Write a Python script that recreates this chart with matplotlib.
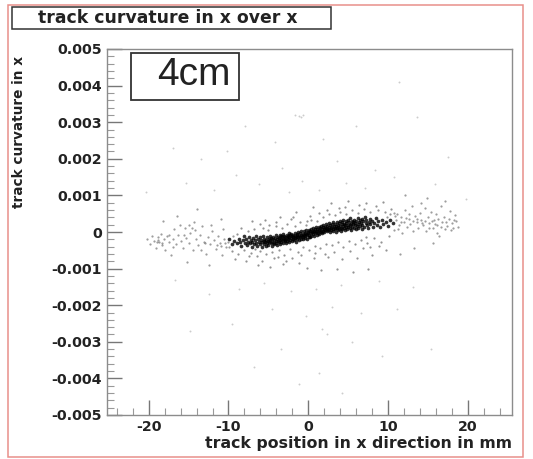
import matplotlib
matplotlib.use("Agg")
import matplotlib.pyplot as plt
from matplotlib.patches import Rectangle
from matplotlib.ticker import MultipleLocator

plt.rcParams['font.family'] = ['DejaVu Sans']
plt.rcParams['axes.unicode_minus'] = False

# (x in mm, curvature in units of 0.001)
core_pts = [
(-8.9,-.31),(-8.7,-.18),(-8.5,-.27),(-8.4,-.38),(-8.2,-.22),(-8.1,-.12),(-7.9,-.3),(-7.8,-.2),(-7.7,-.36),(-7.5,-.26),
(-7.4,-.14),(-7.3,-.31),(-7.2,-.21),(-7.1,-.41),(-7.0,-.27),(-6.9,-.17),(-6.8,-.33),(-6.7,-.23),(-6.6,-.11),(-6.5,-.29),
(-6.4,-.37),(-6.3,-.2),(-6.2,-.26),(-6.1,-.15),(-6.0,-.32),(-5.9,-.22),(-5.85,-.42),(-5.8,-.28),(-5.7,-.12),(-5.6,-.24),
(-5.55,-.34),(-5.5,-.18),(-5.4,-.27),(-5.35,-.39),(-5.3,-.21),(-5.2,-.3),(-5.15,-.14),(-5.1,-.25),(-5.0,-.35),(-4.95,-.19),
(-4.9,-.28),(-4.85,-.1),(-4.8,-.23),(-4.7,-.31),(-4.65,-.17),(-4.6,-.26),(-4.55,-.37),(-4.5,-.2),(-4.4,-.13),(-4.35,-.29),
(-4.3,-.22),(-4.25,-.33),(-4.2,-.16),(-4.1,-.25),(-4.05,-.09),(-4.0,-.3),(-3.95,-.2),(-3.9,-.36),(-3.85,-.14),(-3.8,-.24),
(-3.7,-.28),(-3.65,-.17),(-3.6,-.08),(-3.55,-.22),(-3.5,-.32),(-3.45,-.12),(-3.4,-.19),(-3.35,-.27),(-3.3,-.15),(-3.2,-.23),
(-3.15,-.05),(-3.1,-.3),(-3.05,-.18),(-3.0,-.1),(-2.95,-.25),(-2.9,-.14),(-2.85,-.21),(-2.8,-.29),(-2.7,-.07),(-2.65,-.17),
(-2.6,-.24),(-2.55,-.11),(-2.5,-.2),(-2.45,-.03),(-2.4,-.27),(-2.35,-.14),(-2.3,-.09),(-2.25,-.22),(-2.2,-.17),(-2.1,-.05),
(-2.05,-.25),(-2.0,-.12),(-1.95,-.19),(-1.9,-.07),(-1.85,-.15),(-1.8,-.23),(-1.7,-.1),(-1.65,-.02),(-1.6,-.17),(-1.55,-.27),
(-1.5,-.13),(-1.45,-.06),(-1.4,-.2),(-1.35,-.09),(-1.3,.0),(-1.25,-.15),(-1.2,-.11),(-1.1,-.22),(-1.05,-.04),(-1.0,-.13),
(-.95,-.18),(-.9,-.07),(-.85,.02),(-.8,-.11),(-.7,-.2),(-.65,-.05),(-.6,-.14),(-.55,.03),(-.5,-.09),(-.45,-.16),
(-.4,-.02),(-.35,-.12),(-.3,.05),(-.25,-.06),(-.2,-.18),(-.1,-.09),(-.05,.01),(.0,-.04),(.05,-.13),(.1,.06),
(.15,-.07),(.2,.02),(.25,-.15),(.3,-.03),(.35,.08),(.4,-.1),(.5,.0),(.55,.04),(.6,-.06),(.65,.11),
(.7,-.12),(.75,.02),(.8,.07),(.9,-.04),(.95,.13),(1.0,.01),(1.05,-.08),(1.1,.09),(1.15,.04),(1.2,-.02),
(1.3,.14),(1.35,.06),(1.4,-.05),(1.45,.02),(1.5,.11),(1.55,.17),(1.6,.0),(1.7,.08),(1.75,-.04),(1.8,.13),
(1.85,.04),(1.9,.19),(1.95,.09),(2.0,-.01),(2.1,.15),(2.15,.06),(2.2,.11),(2.25,.22),(2.3,.02),(2.35,.09),
(2.4,.17),(2.5,.05),(2.55,.13),(2.6,.24),(2.65,.08),(2.7,.0),(2.75,.18),(2.8,.11),(2.9,.06),(2.95,.21),
(3.0,.14),(3.05,.03),(3.1,.09),(3.15,.26),(3.2,.17),(3.3,.07),(3.35,.12),(3.4,.22),(3.45,.01),(3.5,.16),
(3.55,.28),(3.6,.1),(3.7,.19),(3.75,.05),(3.8,.14),(3.85,.24),(3.9,.09),(3.95,.31),(4.0,.17),(4.1,.12),
(4.15,.03),(4.2,.21),(4.25,.27),(4.3,.08),(4.35,.16),(4.4,.34),(4.5,.11),(4.55,.22),(4.6,.05),(4.65,.18),
(4.7,.29),(4.75,.13),(4.8,.24),(4.9,.08),(4.95,.2),(5.0,.33),(5.05,.15),(5.1,.26),(5.2,.1),(5.25,.19),
(5.3,.37),(5.35,.23),(5.4,.06),(5.5,.3),(5.55,.14),(5.6,.21),(5.65,.27),(5.7,.11),(5.8,.34),(5.85,.18),
(5.9,.24),(6.0,.07),(6.05,.29),(6.1,.16),(6.2,.39),(6.25,.22),(6.3,.12),(6.4,.27),(6.45,.33),(6.5,.17),
(6.6,.25),(6.7,.09),(6.75,.36),(6.8,.2),(6.9,.29),(7.0,.14),(7.1,.41),(7.2,.24),(7.3,.32),(7.4,.18),
(7.5,.1),(7.6,.27),(7.7,.36),(7.8,.21),(8.0,.3),(8.1,.15),(8.3,.25),(8.5,.38),(8.6,.2),(8.8,.29),
(9.0,.13),(9.2,.33),(9.4,.23),(9.7,.28),(10.0,.17),(10.3,.34),(10.6,.24),(-9.3,-.24),(-9.6,-.34),(-9.9,-.2),
]
halo_pts = [
(-9.5,-.52),(-8.8,-.6),(-8.1,-.49),(-7.6,.02),(-7.2,-.58),(-6.8,.08),(-6.4,-.65),(-6.1,-.52),(-5.7,.12),(-5.3,-.6),
(-5.0,.06),(-4.6,-.55),(-4.3,-.72),(-4.0,.16),(-3.7,-.5),(-3.3,.1),(-3.0,-.62),(-2.6,.22),(-2.3,-.47),(-2.0,-.7),
(-1.7,.17),(-1.3,-.54),(-1.0,.28),(-.6,-.42),(-.3,.2),(.1,-.5),(.4,.34),(.8,-.38),(1.1,.3),(1.5,-.44),
(1.9,.41),(2.2,-.33),(2.6,.5),(3.0,-.36),(3.3,.46),(3.7,-.28),(4.0,.56),(4.4,-.41),(4.8,.5),(5.1,-.25),
(5.5,.6),(5.9,-.34),(6.2,.53),(6.6,-.22),(7.0,.62),(7.4,-.3),(7.8,.55),(8.2,-.17),(8.7,.6),(9.1,-.26),
(9.6,.56),(10.1,-.1),(10.4,.62),(-8.4,.11),(-7.0,.3),(-5.4,.33),(-3.5,.42),(-1.5,.55),(.6,.68),(2.8,.78),
(5.0,.85),(7.3,.8),(9.4,.82),(-6.3,-.9),(-4.8,-.95),(-3.1,-.88),(-1.2,-.85),(.7,-.72),(2.5,-.68),(4.3,-.75),
(6.1,-.7),(8.0,-.62),(9.8,-.5),(-7.8,-.8),(-9.2,-.75),(-.2,-.98),(1.6,-1.05),(3.6,-1.0),(5.6,-1.1),(7.5,-1.0),
(-4.1,.27),(3.2,-.56),(-8.9,-.06),(6.4,.74),(-2.2,.36),(9.9,.41),(-6.7,-.47),(1.3,.52),(7.7,-.41),(-.9,-.63),
(4.6,.68),(-5.8,-.78),(2.1,-.59),(8.5,.7),(-3.8,-.68),(.2,.44),(5.3,-.52),(-7.4,-.66),(10.2,.48),(-1.9,.42),
(3.9,.66),(-4.9,.19),(6.9,-.45),(-.1,.3),(8.9,-.38),(-2.8,-.79),(2.4,.61),(-6.0,.21),(.9,-.57),(7.2,-.15),
]
left_wing_pts = [
(-20.2,-.2),(-19.8,-.33),(-19.6,-.1),(-19.3,-.24),(-19.1,-.44),(-18.9,-.15),(-18.7,-.28),(-18.5,-.05),(-18.3,-.36),(-18.1,-.2),
(-17.9,-.5),(-17.7,-.12),(-17.5,-.27),(-17.2,-.62),(-17.0,-.18),(-16.8,.07),(-16.6,-.34),(-16.3,-.09),(-16.1,.2),(-15.9,-.24),
(-15.7,-.44),(-15.5,.12),(-15.3,-.16),(-15.0,-.3),(-14.8,-.02),(-14.5,-.5),(-14.3,.26),(-14.1,-.2),(-13.8,-.36),(-13.6,-.07),
(-13.3,.16),(-13.1,-.26),(-12.8,-.6),(-12.6,-.13),(-12.3,-.34),(-12.1,.04),(-11.8,-.22),(-11.6,-.47),(-11.3,-.1),(-11.1,-.3),
(-10.8,-.64),(-10.6,-.18),(-10.3,-.41),(-10.1,-.28),(-16.5,.44),(-13.9,.62),(-11.0,.36),(-12.4,-.9),(-15.2,-.82),(-18.2,.3),
(-19.0,-.27),(-18.4,-.31),(-18.8,-.22),(-14.6,.1),(-14.9,.19),(-14.2,.05),(-10.9,-.38),(-10.4,-.31),(-9.9,-.42),(-11.4,-.36),
(-12.9,-.29),(-16.9,-.41),(-13.4,-.48),(-17.4,-.08),(-15.6,-.07),(-9.4,-.1),(-12.2,.19),(-10.7,.09),
]
right_wing_pts = [
(10.8,.06),(11.0,.33),(11.2,.5),(11.4,.2),(11.6,.4),(11.8,-.02),(12.0,.28),(12.2,.6),(12.4,.14),(12.6,.36),
(12.8,.22),(13.0,.72),(13.2,.03),(13.4,.44),(13.6,.26),(13.8,.1),(14.0,.52),(14.2,.32),(14.4,.18),(14.6,.66),
(14.8,.04),(15.0,.4),(15.2,.24),(15.4,.56),(15.6,.12),(15.8,.34),(16.0,.48),(16.2,.2),(16.4,-.1),(16.6,.7),
(16.8,.28),(17.0,.42),(17.2,.08),(17.4,.16),(17.6,.36),(17.8,.58),(18.0,.24),(18.2,.1),(18.4,.46),(18.6,.3),
(18.8,.14),(12.1,1.02),(14.9,.92),(17.1,.86),(13.3,-.44),(15.7,-.3),(11.5,-.6),
(10.9,.43),(11.3,.09),(11.7,.27),(12.3,.37),(13.1,.31),(13.7,.35),(14.3,.24),(14.7,.29),(15.1,.11),(15.5,.31),
(15.9,.22),(16.3,.35),(16.7,.13),(17.3,.26),(17.9,.05),(18.3,.33),(10.7,.52),(12.7,.49),(14.1,.78),(16.1,-.02),
]
sparse_pts = [
(-1.6,3.2),(-1.2,3.18),(-.9,3.14),(-.6,3.2),(-7.9,2.9),(-4.2,2.45),(-17.0,2.3),(-13.5,2.0),(-10.2,2.2),(1.9,2.55),
(6.0,2.9),(11.4,4.1),(13.7,3.15),(17.5,2.05),(3.6,1.95),(-3.3,1.75),(-9.1,1.55),(-15.3,1.35),(-20.3,1.1),(8.4,1.7),
(-6.2,1.3),(-.8,1.4),(4.7,1.35),(10.8,1.5),(15.9,1.3),(-11.8,1.15),(-2.4,1.1),(1.4,1.15),(7.1,1.2),(19.8,.9),
(-8.7,-1.55),(-5.5,-1.4),(-2.1,-1.6),(1.0,-1.55),(4.1,-1.45),(8.9,-1.35),(13.2,-1.5),(-16.7,-1.3),(-12.5,-1.7),(-4.6,-2.1),
(-.3,-2.3),(3.0,-2.05),(6.6,-2.2),(11.1,-2.1),(-9.5,-2.5),(1.7,-2.65),(2.3,-2.78),(5.5,-3.0),(-3.4,-3.2),(-14.8,-2.7),
(9.3,-3.4),(1.4,-3.85),(-6.8,-3.7),(4.2,-4.4),(-1.1,-4.15),(15.4,-3.2),
]
x_ticks = [-20, -10, 0, 10, 20]
y_ticks = [-0.005, -0.004, -0.003, -0.002, -0.001, 0, 0.001, 0.002, 0.003, 0.004, 0.005]
y_tick_labels = ['-0.005', '-0.004', '-0.003', '-0.002', '-0.001', '0',
                 '0.001', '0.002', '0.003', '0.004', '0.005']
title_text = 'track curvature in x over x'
box_text = '4cm'
x_label = 'track position in x direction in mm'
y_label = 'track curvature in x'

W, H = 533, 459
fig = plt.figure(figsize=(W/100, H/100), dpi=100, facecolor='white')
ax = fig.add_axes([106.5/W, 1-415/H, (511.5-106.5)/W, (415-49)/H])
ax.set_xlim(-25.3, 25.5)
ax.set_ylim(-0.005, 0.005)

def draw(pts, size, alpha):
    ax.scatter([p[0] for p in pts], [p[1]*1e-3 for p in pts], s=size, c='black',
               alpha=alpha, marker='o', linewidths=0)

draw(core_pts, 7.0, 0.8)
draw(halo_pts, 2.6, 0.42)
draw(left_wing_pts, 2.6, 0.38)
draw(right_wing_pts, 2.6, 0.38)
draw(sparse_pts, 2.0, 0.2)

for s in ax.spines.values():
    s.set_color('#8c8c8c')
    s.set_linewidth(1.0)
ax.set_xticks(x_ticks)
ax.set_yticks(y_ticks)
ax.set_yticklabels(y_tick_labels)
ax.xaxis.set_minor_locator(MultipleLocator(2))
ax.yaxis.set_minor_locator(MultipleLocator(0.0002))
ax.tick_params(axis='both', which='major', direction='in', length=11, width=1.0, color='#777777',
               labelsize=10.2, pad=3.5)
ax.tick_params(axis='both', which='minor', direction='in', length=5, width=0.8, color='#999999')
for t in ax.get_xticklabels() + ax.get_yticklabels():
    t.set_fontweight('bold')
    t.set_color('#222222')

def px(x, y):
    return x/W, 1-y/H

fig.text(*px(512, 448), x_label, ha='right', va='baseline', fontsize=11.35, fontweight='bold', color='#222222')
fig.text(*px(19, 132), y_label, rotation=90, ha='center', va='center', fontsize=9.8, fontweight='bold', color='#222222')

# outer frame, title box, label box
fig.add_artist(Rectangle(px(8, 457), 515/W, 452/H, transform=fig.transFigure, fill=False,
                         edgecolor='#e8908a', linewidth=1.1))
fig.add_artist(Rectangle(px(12, 29), 319/W, 22/H, transform=fig.transFigure, facecolor='white',
                         edgecolor='#333333', linewidth=1.1))
fig.text(*px(168, 18), title_text, ha='center', va='center', fontsize=12.4, fontweight='bold', color='#222222')
fig.add_artist(Rectangle(px(131, 100), 108/W, 47/H, transform=fig.transFigure, facecolor='white',
                         edgecolor='#333333', linewidth=1.3, zorder=3))
fig.text(*px(194, 75), box_text, ha='center', va='center', fontsize=28, family='Liberation Sans',
         color='#222222', zorder=4)

fig.savefig('out.png', dpi=100)
